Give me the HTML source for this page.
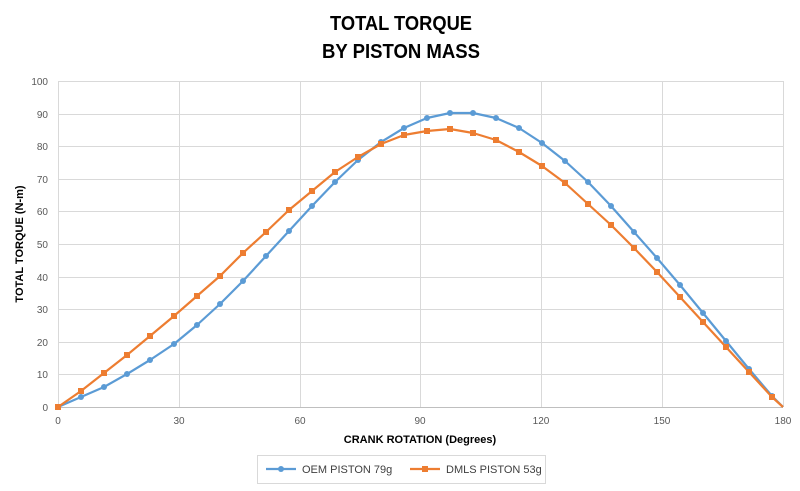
<!DOCTYPE html>
<html><head><meta charset="utf-8"><style>
body{margin:0;background:#fff;}
svg{display:block;font-family:"Liberation Sans",Arial,sans-serif;}
</style></head><body>
<svg width="800" height="491" viewBox="0 0 800 491" xmlns="http://www.w3.org/2000/svg">
<rect width="800" height="491" fill="#fff"/>
<text x="401" y="30" text-anchor="middle" font-size="20" font-weight="bold" fill="#000" textLength="142" lengthAdjust="spacingAndGlyphs">TOTAL TORQUE</text>
<text x="401" y="58" text-anchor="middle" font-size="20" font-weight="bold" fill="#000" textLength="158" lengthAdjust="spacingAndGlyphs">BY PISTON MASS</text>
<g stroke="#d9d9d9" stroke-width="1">
<line x1="58" y1="81.5" x2="783" y2="81.5"/><line x1="58" y1="114.5" x2="783" y2="114.5"/>
<line x1="58" y1="146.5" x2="783" y2="146.5"/><line x1="58" y1="179.5" x2="783" y2="179.5"/>
<line x1="58" y1="211.5" x2="783" y2="211.5"/><line x1="58" y1="244.5" x2="783" y2="244.5"/>
<line x1="58" y1="277.5" x2="783" y2="277.5"/><line x1="58" y1="309.5" x2="783" y2="309.5"/>
<line x1="58" y1="342.5" x2="783" y2="342.5"/><line x1="58" y1="374.5" x2="783" y2="374.5"/>
<line x1="179.5" y1="81" x2="179.5" y2="407"/><line x1="300.5" y1="81" x2="300.5" y2="407"/>
<line x1="420.5" y1="81" x2="420.5" y2="407"/><line x1="541.5" y1="81" x2="541.5" y2="407"/>
<line x1="662.5" y1="81" x2="662.5" y2="407"/><line x1="783.5" y1="81" x2="783.5" y2="407"/>
</g>
<line x1="58" y1="407.5" x2="783" y2="407.5" stroke="#bfbfbf"/>
<line x1="58.5" y1="81" x2="58.5" y2="407" stroke="#d9d9d9"/>
<g font-size="10" fill="#595959" text-anchor="end">
<text x="48" y="85">100</text><text x="48" y="118">90</text><text x="48" y="150">80</text>
<text x="48" y="183">70</text><text x="48" y="215">60</text><text x="48" y="248">50</text>
<text x="48" y="281">40</text><text x="48" y="313">30</text><text x="48" y="346">20</text>
<text x="48" y="378">10</text><text x="48" y="411">0</text>
</g>
<g font-size="10" fill="#595959" text-anchor="middle">
<text x="58" y="424">0</text><text x="179" y="424">30</text><text x="300" y="424">60</text>
<text x="420" y="424">90</text><text x="541" y="424">120</text><text x="662" y="424">150</text><text x="783" y="424">180</text>
</g>
<text x="420" y="443" text-anchor="middle" font-size="11" font-weight="bold" fill="#000">CRANK ROTATION (Degrees)</text>
<text transform="translate(23,244) rotate(-90)" text-anchor="middle" font-size="11" font-weight="bold" fill="#000">TOTAL TORQUE (N-m)</text>
<polyline fill="none" stroke="#5b9bd5" stroke-width="2.2" stroke-linejoin="round" points="58,407 81,397 104,387 127,374 150,360 174,344 197,325 220,304 243,281 266,256 289,231 312,206 335,182 358,160 381,142 404,128 427,118 450,113 473,113 496,118 519,128 542,143 565,161 588,182 611,206 634,232 657,258 680,285 703,313 726,341 749,369 772,396 783,407"/>
<polyline fill="none" stroke="#ed7d31" stroke-width="2.2" stroke-linejoin="round" points="58,407 81,391 104,373 127,355 150,336 174,316 197,296 220,276 243,253 266,232 289,210 312,191 335,172 358,157 381,144 404,135 427,131 450,129 473,133 496,140 519,152 542,166 565,183 588,204 611,225 634,248 657,272 680,297 703,322 726,347 749,372 772,397 783,407"/>
<g fill="#5b9bd5">
<circle cx="58" cy="407" r="3"/><circle cx="81" cy="397" r="3"/><circle cx="104" cy="387" r="3"/><circle cx="127" cy="374" r="3"/><circle cx="150" cy="360" r="3"/><circle cx="174" cy="344" r="3"/><circle cx="197" cy="325" r="3"/><circle cx="220" cy="304" r="3"/><circle cx="243" cy="281" r="3"/><circle cx="266" cy="256" r="3"/><circle cx="289" cy="231" r="3"/><circle cx="312" cy="206" r="3"/><circle cx="335" cy="182" r="3"/><circle cx="358" cy="160" r="3"/><circle cx="381" cy="142" r="3"/><circle cx="404" cy="128" r="3"/><circle cx="427" cy="118" r="3"/><circle cx="450" cy="113" r="3"/><circle cx="473" cy="113" r="3"/><circle cx="496" cy="118" r="3"/><circle cx="519" cy="128" r="3"/><circle cx="542" cy="143" r="3"/><circle cx="565" cy="161" r="3"/><circle cx="588" cy="182" r="3"/><circle cx="611" cy="206" r="3"/><circle cx="634" cy="232" r="3"/><circle cx="657" cy="258" r="3"/><circle cx="680" cy="285" r="3"/><circle cx="703" cy="313" r="3"/><circle cx="726" cy="341" r="3"/><circle cx="749" cy="369" r="3"/><circle cx="772" cy="396" r="3"/>
</g>
<g fill="#ed7d31">
<rect x="55" y="404" width="6" height="6"/><rect x="78" y="388" width="6" height="6"/><rect x="101" y="370" width="6" height="6"/><rect x="124" y="352" width="6" height="6"/><rect x="147" y="333" width="6" height="6"/><rect x="171" y="313" width="6" height="6"/><rect x="194" y="293" width="6" height="6"/><rect x="217" y="273" width="6" height="6"/><rect x="240" y="250" width="6" height="6"/><rect x="263" y="229" width="6" height="6"/><rect x="286" y="207" width="6" height="6"/><rect x="309" y="188" width="6" height="6"/><rect x="332" y="169" width="6" height="6"/><rect x="355" y="154" width="6" height="6"/><rect x="378" y="141" width="6" height="6"/><rect x="401" y="132" width="6" height="6"/><rect x="424" y="128" width="6" height="6"/><rect x="447" y="126" width="6" height="6"/><rect x="470" y="130" width="6" height="6"/><rect x="493" y="137" width="6" height="6"/><rect x="516" y="149" width="6" height="6"/><rect x="539" y="163" width="6" height="6"/><rect x="562" y="180" width="6" height="6"/><rect x="585" y="201" width="6" height="6"/><rect x="608" y="222" width="6" height="6"/><rect x="631" y="245" width="6" height="6"/><rect x="654" y="269" width="6" height="6"/><rect x="677" y="294" width="6" height="6"/><rect x="700" y="319" width="6" height="6"/><rect x="723" y="344" width="6" height="6"/><rect x="746" y="369" width="6" height="6"/><rect x="769" y="394" width="6" height="6"/>
</g>
<rect x="257.5" y="455.5" width="288" height="28" fill="#fff" stroke="#d9d9d9"/>
<line x1="266" y1="469" x2="296" y2="469" stroke="#5b9bd5" stroke-width="2.2"/>
<circle cx="281" cy="469" r="3" fill="#5b9bd5"/>
<text x="302" y="473" font-size="11" fill="#404040">OEM PISTON 79g</text>
<line x1="410" y1="469" x2="440" y2="469" stroke="#ed7d31" stroke-width="2.2"/>
<rect x="422" y="466" width="6" height="6" fill="#ed7d31"/>
<text x="446" y="473" font-size="11" fill="#404040">DMLS PISTON 53g</text>
</svg>
</body></html>
